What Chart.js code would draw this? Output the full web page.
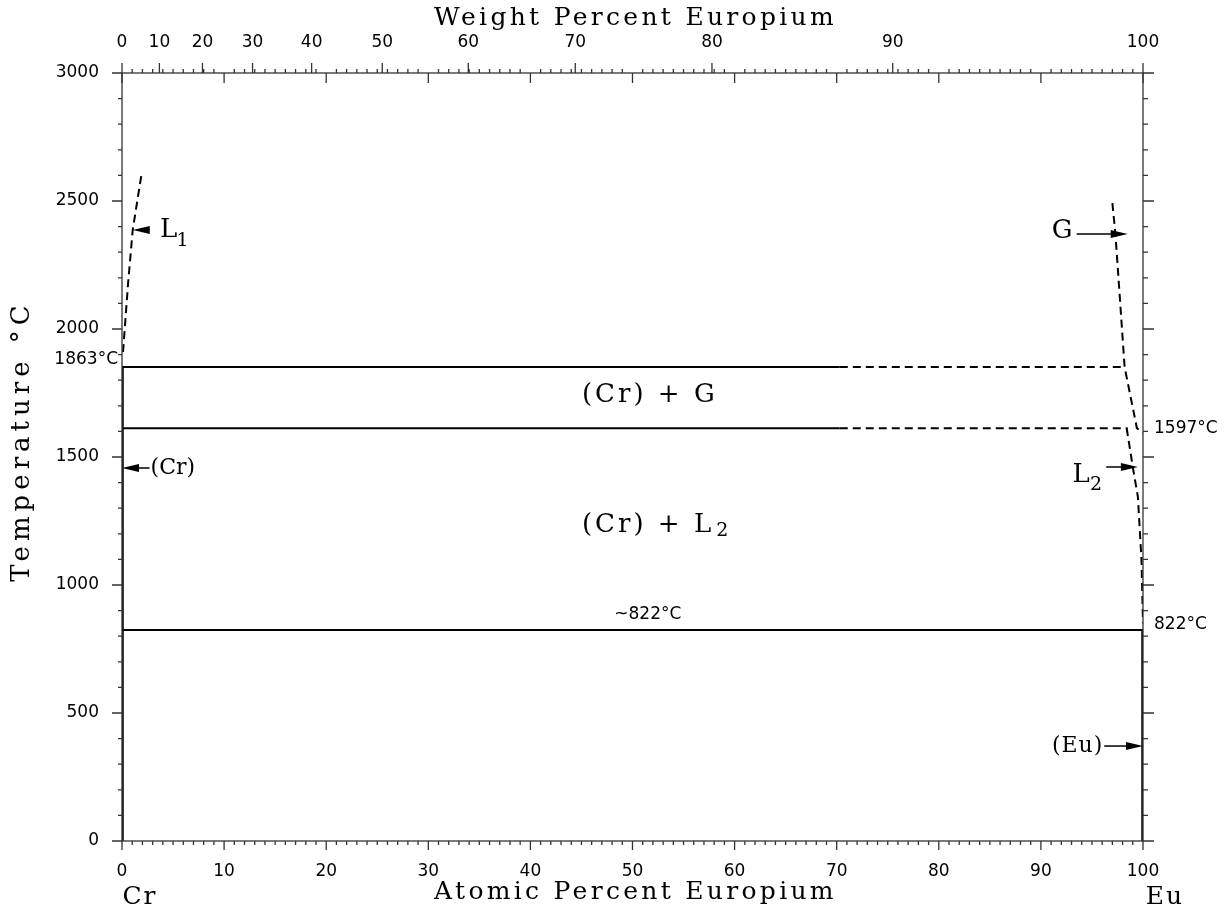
<!DOCTYPE html>
<html>
<head>
<meta charset="utf-8">
<script src="https://cdn.jsdelivr.net/npm/chart.js@4.4.1/dist/chart.umd.min.js"></script>
<style>
  html, body { margin: 0; padding: 0; background: #fff; }
  #wrap { width: 1232px; height: 913px; }
</style>
</head>
<body>
<div id="wrap"><canvas id="phaseChart"></canvas></div>
<script>
// temperatures of the horizontal reactions (as drawn)
const upperT = 1852;
const middleT = 1612;
const eutecticT = 824;

// horizontal lines, at.% Eu
const upperSolid = [{x: 0, y: upperT}, {x: 70.3, y: upperT}];
const upperDashed = [{x: 70.3, y: upperT}, {x: 98.1, y: upperT}];
const middleSolid = [{x: 0, y: middleT}, {x: 70.3, y: middleT}];
const middleDashed = [{x: 70.3, y: middleT}, {x: 98.5, y: middleT}];
const eutecticLine = [{x: 0, y: eutecticT}, {x: 100, y: eutecticT}];

// solid solutions (thick edges)
const crSolid = [{x: 0, y: 0}, {x: 0, y: upperT}];
const euSolid = [{x: 100, y: 0}, {x: 100, y: eutecticT}];

// dashed boundaries
const l1Curve = [{x: 0.1, y: 1910}, {x: 0.6, y: 2180}, {x: 1.05, y: 2387}, {x: 1.96, y: 2617}];
const gCurve = [{x: 97.0, y: 2492}, {x: 97.3, y: 2371}, {x: 98.2, y: 1851}, {x: 99.4, y: 1613}, {x: 100, y: 1594}];
const l2Curve = [{x: 98.4, y: 1613}, {x: 99.0, y: 1461}, {x: 99.5, y: 1344}, {x: 99.85, y: 1100}, {x: 100, y: 850}];

// tick labels
const atTicks = [0, 10, 20, 30, 40, 50, 60, 70, 80, 90, 100];
const wtTicks = [0, 10, 20, 30, 40, 50, 60, 70, 80, 90, 100];
const tempTicks = [0, 500, 1000, 1500, 2000, 2500, 3000];
const atomicWeightCr = 51.996;
const atomicWeightEu = 151.964;

const wtToAt = (w) => {
    if (w <= 0) return 0;
    if (w >= 100) return 100;
    const eu = w / atomicWeightEu;
    const cr = (100 - w) / atomicWeightCr;
    return eu / (eu + cr) * 100;
};

// arrows: tail -> head, in data units
const arrows = [
    {x1: 2.7, x2: 1.05, y: 2387},
    {x1: 2.7, x2: 0, y: 1457},
    {x1: 93.5, x2: 98.5, y: 2371},
    {x1: 96.4, x2: 99.5, y: 1461},
    {x1: 96.2, x2: 100, y: 371}
];

const line = (data, opts) => Object.assign({
    data: data,
    showLine: true,
    borderColor: '#000',
    borderWidth: 2,
    pointRadius: 0,
    fill: false,
    tension: 0
}, opts || {});

const serif = '"DejaVu Serif", serif';
const sans = '"DejaVu Sans", sans-serif';

const decorations = {
    id: 'decorations',
    afterDraw(chart) {
        const ctx = chart.ctx;
        const xs = chart.scales.x;
        const ys = chart.scales.y;
        const a = chart.chartArea;
        const px = (v) => xs.getPixelForValue(v);
        const py = (v) => ys.getPixelForValue(v);
        ctx.save();

        // frame
        ctx.strokeStyle = '#333';
        ctx.lineWidth = 1.3;
        ctx.strokeRect(a.left, a.top, a.right - a.left, a.bottom - a.top);

        ctx.beginPath();
        // bottom ticks, every 1 at.%
        for (let i = 0; i <= 100; i++) {
            const x = px(i);
            const len = i % 10 === 0 ? 9 : 4;
            ctx.moveTo(x, a.bottom); ctx.lineTo(x, a.bottom + len);
            // top: small at.% ticks upward, majors downward
            if (i % 10 === 0) {
                ctx.moveTo(x, a.top); ctx.lineTo(x, a.top + 10);
            } else {
                ctx.moveTo(x, a.top); ctx.lineTo(x, a.top - 4);
            }
        }
        // top weight percent ticks
        wtTicks.forEach(w => {
            const x = px(wtToAt(w));
            ctx.moveTo(x, a.top); ctx.lineTo(x, a.top - 10);
        });
        // temperature ticks every 100
        for (let t = 0; t <= 3000; t += 100) {
            const y = py(t);
            const len = t % 500 === 0 ? 10 : 4;
            ctx.moveTo(a.left, y); ctx.lineTo(a.left - len, y);
            ctx.moveTo(a.right, y); ctx.lineTo(a.right + len + 1, y);
        }
        ctx.stroke();

        // arrows
        ctx.strokeStyle = '#000';
        ctx.fillStyle = '#000';
        ctx.lineWidth = 1.5;
        arrows.forEach(ar => {
            const x1 = px(ar.x1), x2 = px(ar.x2), y = py(ar.y);
            const dir = x2 > x1 ? 1 : -1;
            ctx.beginPath();
            ctx.moveTo(x1, y); ctx.lineTo(x2 - dir * 14, y);
            ctx.stroke();
            ctx.beginPath();
            ctx.moveTo(x2, y);
            ctx.lineTo(x2 - dir * 17, y - 4);
            ctx.lineTo(x2 - dir * 17, y + 4);
            ctx.closePath();
            ctx.fill();
        });

        // texts
        const text = (s, x, y, font, align, spacing) => {
            ctx.font = font;
            ctx.textAlign = align || 'center';
            ctx.textBaseline = 'middle';
            ctx.letterSpacing = spacing || '0px';
            ctx.fillText(s, x, y);
        };
        const big = '26px ' + serif;
        const sub = '19px ' + serif;
        text('L', px(3.72), py(2387), big, 'left');
        text('1', px(5.35), py(2345), sub, 'left');
        text('(Cr)', px(2.8), py(1457), '22px ' + serif, 'left');
        text('G', px(92.07), py(2380), big, 'center');
        text('L', px(93.1), py(1430), big, 'left');
        text('2', px(94.8), py(1390), sub, 'left');
        text('(Eu)', px(93.6), py(371), '22px ' + serif, 'center', '1px');
        text('(Cr) + G', px(45.05), py(1740), big, 'left', '3px');
        text('(Cr) + L', px(45.05), py(1235), big, 'left', '3px');
        text('2', px(58.2), py(1210), sub, 'left');
        text('~822°C', px(51.5), py(885), '17px ' + sans, 'center');
        text('1863°C', a.left - 4, py(1880), '17px ' + sans, 'right');
        text('1597°C', a.right + 11, py(1610), '17px ' + sans, 'left');
        text('822°C', a.right + 11, py(845), '17px ' + sans, 'left');

        // axis titles
        text('Weight Percent Europium', (a.left + a.right) / 2 + 3, 18, '25px ' + serif, 'center', '3.3px');
        text('Atomic Percent Europium', (a.left + a.right) / 2 + 3, 892, '25px ' + serif, 'center', '3.3px');
        text('Cr', a.left + 18, 897, '25px ' + serif, 'center', '2px');
        text('Eu', a.right + 22, 897, '25px ' + serif, 'center', '2px');
        ctx.save();
        ctx.translate(22, 441);
        ctx.rotate(-Math.PI / 2);
        text('Temperature °C', 0, 0, '26px ' + serif, 'center', '5px');
        ctx.restore();

        ctx.restore();
    }
};

const tickFont = {family: 'DejaVu Sans', size: 17};

const ctx = document.getElementById('phaseChart').getContext('2d');
const phaseChart = new Chart(ctx, {
    type: 'scatter',
    data: {
        datasets: [
            line(upperSolid),
            line(upperDashed, {borderDash: [8, 5]}),
            line(middleSolid),
            line(middleDashed, {borderDash: [8, 5]}),
            line(eutecticLine),
            line(crSolid, {borderWidth: 3.5}),
            line(euSolid, {borderWidth: 3.5}),
            line(l1Curve, {borderDash: [8, 5]}),
            line(gCurve, {borderDash: [8, 5]}),
            line(l2Curve, {borderDash: [8, 5]})
        ]
    },
    options: {
        responsive: true,
        maintainAspectRatio: false,
        animation: false,
        layout: {padding: 0},
        plugins: {
            legend: {display: false},
            tooltip: {enabled: false}
        },
        scales: {
            x: {
                type: 'linear',
                position: 'bottom',
                min: 0, max: 100,
                grid: {display: false},
                border: {display: false},
                afterBuildTicks: (scale) => { scale.ticks = atTicks.map(v => ({value: v})); },
                afterFit: (scale) => { scale.height = 72; },
                ticks: {
                    padding: 12,
                    color: '#000',
                    maxRotation: 0,
                    font: tickFont,
                    callback: (value) => String(value)
                }
            },
            xTop: {
                type: 'linear',
                position: 'top',
                min: 0, max: 100,
                grid: {display: false},
                border: {display: false},
                afterBuildTicks: (scale) => { scale.ticks = wtTicks.map(w => ({value: wtToAt(w)})); },
                afterFit: (scale) => { scale.height = 73; },
                ticks: {
                    padding: 12,
                    color: '#000',
                    maxRotation: 0,
                    autoSkip: false,
                    font: tickFont,
                    callback: (value, index) => String(wtTicks[index])
                }
            },
            y: {
                type: 'linear',
                position: 'left',
                min: 0, max: 3000,
                grid: {display: false},
                border: {display: false},
                afterBuildTicks: (scale) => { scale.ticks = tempTicks.map(v => ({value: v})); },
                afterFit: (scale) => { scale.width = 122; },
                ticks: {
                    padding: 15,
                    color: '#000',
                    font: tickFont,
                    callback: (value) => String(value)
                }
            },
            y2: {
                type: 'linear',
                position: 'right',
                min: 0, max: 3000,
                grid: {display: false},
                border: {display: false},
                afterFit: (scale) => { scale.width = 89; },
                ticks: {display: false}
            }
        }
    },
    plugins: [decorations]
});
</script>
</body>
</html>
